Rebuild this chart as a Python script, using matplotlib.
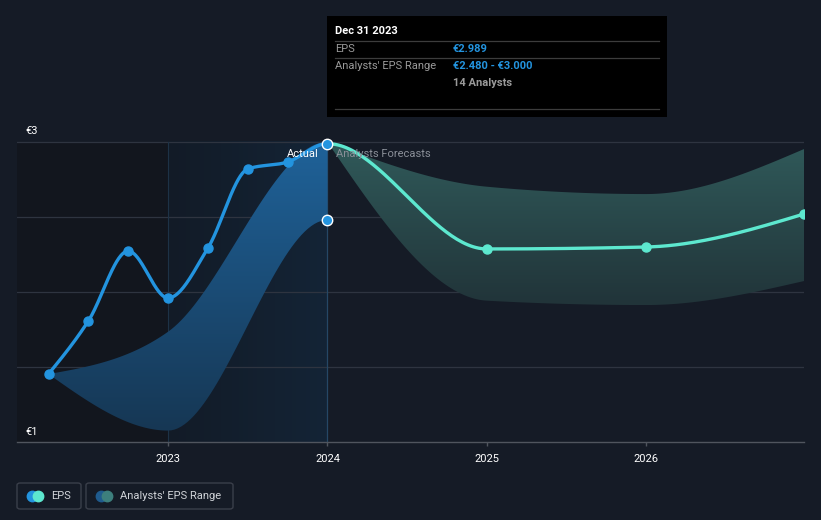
import numpy as np
import matplotlib
matplotlib.use("Agg")
import matplotlib.pyplot as plt
from matplotlib.patches import Rectangle, FancyBboxPatch
from matplotlib.colors import LinearSegmentedColormap
from matplotlib.lines import Line2D

plt.rcParams['font.family'] = ['Roboto', 'DejaVu Sans']

# dati (anni come decimali)
actual_x = [2022.25, 2022.5, 2022.75, 2023.0, 2023.25, 2023.5, 2023.75, 2024.0]
actual_eps = [1.453, 1.807, 2.273, 1.960, 2.293, 2.820, 2.867, 2.989]
forecast_x = [2024.0, 2025.0, 2026.0, 2026.99]
forecast_eps = [2.989, 2.287, 2.300, 2.520]

past_band_x = [2022.25, 2023.0, 2024.0]
past_band_hi = [1.453, 1.735, 3.000]
past_band_lo = [1.453, 1.076, 2.480]

fc_band_x = [2024.0, 2025.0, 2026.0, 2026.99]
fc_band_hi = [3.000, 2.702, 2.653, 2.953]
fc_band_lo = [3.000, 1.942, 1.913, 2.073]

x_ticks = [2023, 2024, 2025, 2026]
x_labels = ["2023", "2024", "2025", "2026"]

BG = "#151b26"
BLUE = "#2394df"
TEAL = "#5de8cf"
W, H = 821, 520


def monotone(xs, ys, n=50):
    # curva monotona tipo d3.curveMonotoneX
    xs = np.asarray(xs, float)
    ys = np.asarray(ys, float)
    h = np.diff(xs)
    s = np.diff(ys) / h
    m = np.zeros_like(ys)
    for i in range(1, len(xs) - 1):
        if s[i - 1] * s[i] > 0:
            p = (s[i - 1] * h[i] + s[i] * h[i - 1]) / (h[i - 1] + h[i])
            m[i] = 2 * np.sign(s[i]) * min(abs(s[i - 1]), abs(s[i]), 0.5 * abs(p))
    m[0] = (3 * s[0] - m[1]) / 2
    m[-1] = (3 * s[-1] - m[-2]) / 2
    out_x, out_y = [], []
    for i in range(len(xs) - 1):
        t = np.linspace(0, 1, n)
        h00 = 2 * t**3 - 3 * t**2 + 1
        h10 = t**3 - 2 * t**2 + t
        h01 = -2 * t**3 + 3 * t**2
        h11 = t**3 - t**2
        yy = h00 * ys[i] + h10 * h[i] * m[i] + h01 * ys[i + 1] + h11 * h[i] * m[i + 1]
        out_x.append(xs[i] + t * h[i])
        out_y.append(yy)
    return np.concatenate(out_x), np.concatenate(out_y)


def gradient_fill(ax, x, lo, hi, c_top, c_bot):
    poly = ax.fill_between(x, lo, hi, color="none", lw=0)
    cmap = LinearSegmentedColormap.from_list("g", [c_bot, c_top])
    grad = np.linspace(0, 1, 256).reshape(-1, 1)
    im = ax.imshow(grad, cmap=cmap, aspect="auto", origin="lower",
                   extent=[x[0], x[-1], min(lo), max(hi)], zorder=2)
    im.set_clip_path(poly.get_paths()[0], transform=ax.transData)


fig = plt.figure(figsize=(W / 100, H / 100), dpi=100, facecolor=BG)
x_left = 2023 - (168 - 17) / 159.33
x_right = 2026.99
y_top = 3 + (142 - 10) / 150
ax = fig.add_axes([17 / W, 1 - 442 / H, (804 - 17) / W, (442 - 10) / H])
ax.set_facecolor(BG)
ax.set_xlim(x_left, x_right)
ax.set_ylim(1, y_top)

# zone di sfondo
ax.axvspan(x_left, 2023, ymin=0, ymax=(3 - 1) / (y_top - 1), color="#12161e", lw=0, zorder=0)
bgcmap = LinearSegmentedColormap.from_list("bg", ["#121b27", "#142436"])
ax.imshow(np.linspace(0, 1, 256).reshape(1, -1), cmap=bgcmap, aspect="auto",
          extent=[2023, 2024, 1, 3], zorder=0)

for yv in [1.5, 2.0, 2.5, 3.0]:
    ax.axhline(yv, color="#2e3440", lw=0.9, zorder=1)
ax.plot([2023, 2023], [1, 3], color="#1d3246", lw=0.8, zorder=1)
ax.plot([2024, 2024], [1, 3], color="#254765", lw=0.9, zorder=1)

# bande: la banda storica prosegue con il punto 2025 per la tangente in 2024
bx, bhi = monotone(past_band_x + fc_band_x[1:2], past_band_hi + fc_band_hi[1:2])
_, blo = monotone(past_band_x + fc_band_x[1:2], past_band_lo + fc_band_lo[1:2])
keep = bx <= 2024.0001
gradient_fill(ax, bx[keep], blo[keep], bhi[keep], "#1f6299", "#163754")

fx, fhi = monotone(fc_band_x, fc_band_hi)
_, flo = monotone(fc_band_x, fc_band_lo)
gradient_fill(ax, fx, flo, fhi, "#305a5a", "#213439")

# linea EPS (una sola curva, colorata in due parti)
all_x = actual_x + forecast_x[1:]
all_y = actual_eps + forecast_eps[1:]
cx, cy = monotone(all_x, all_y, n=60)
ax.plot(cx[cx <= 2024.0001], cy[cx <= 2024.0001], color=BLUE, lw=2.4, zorder=4,
        solid_capstyle="round")
ax.plot(cx[cx >= 2024], cy[cx >= 2024], color=TEAL, lw=2.4, zorder=4,
        solid_capstyle="round")
ax.plot(actual_x[:-1], actual_eps[:-1], "o", color=BLUE, ms=6.5, zorder=5)
ax.plot(forecast_x[1:], forecast_eps[1:], "o", color=TEAL, ms=6.5, zorder=5)
ax.plot([2024, 2024], [actual_eps[-1], past_band_lo[-1]], "o", color=BLUE, ms=7.5,
        mec="white", mew=1.0, zorder=6, ls="none")

ax.text(2024 - 9 / 159.33, 2.92, "Actual", color="white", fontsize=8, ha="right",
        va="center", zorder=7)
ax.text(2024 + 9 / 159.33, 2.92, "Analysts Forecasts", color="#8a8f98", fontsize=8,
        ha="left", va="center", zorder=7)

# assi
for sp in ["top", "right", "left"]:
    ax.spines[sp].set_visible(False)
ax.spines["bottom"].set_color("#50555e")
ax.spines["bottom"].set_linewidth(1.0)
ax.set_yticks([])
ax.set_xticks(x_ticks)
ax.set_xticklabels(x_labels, color="white", fontsize=8)
ax.tick_params(axis="x", colors="#50555e", length=3, width=1, pad=6, labelcolor="white")

ax.text(8 / 787, 3.0 + 6 / 150, "€3", transform=ax.get_yaxis_transform(), color="white",
        fontsize=8, va="bottom", ha="left")
ax.text(8 / 787, 1.0 + 5 / 150, "€1", transform=ax.get_yaxis_transform(), color="white",
        fontsize=8, va="bottom", ha="left")


def fx_(px):
    return px / W


def fy_(py):
    return 1 - py / H


# tooltip
fig.patches.append(Rectangle((fx_(327), fy_(117)), (667 - 327) / W, (117 - 16) / H,
                             transform=fig.transFigure, facecolor="black", edgecolor="none",
                             zorder=10))
for ly in [41, 58, 109]:
    fig.add_artist(Line2D([fx_(335), fx_(659)], [fy_(ly), fy_(ly)], color="#3c3c3c",
                          lw=0.9, zorder=11))
fig.text(fx_(335), fy_(31), "Dec 31 2023", color="white", fontsize=8, fontweight="bold",
         va="center", zorder=12)
fig.text(fx_(335), fy_(49), "EPS", color="#9a9a9a", fontsize=8, va="center", zorder=12)
fig.text(fx_(453), fy_(49), "€2.989", color=BLUE, fontsize=8, fontweight="bold",
         va="center", zorder=12)
fig.text(fx_(335), fy_(66), "Analysts' EPS Range", color="#9a9a9a", fontsize=8,
         va="center", zorder=12)
fig.text(fx_(453), fy_(66), "€2.480 - €3.000", color=BLUE, fontsize=8, fontweight="bold",
         va="center", zorder=12)
fig.text(fx_(453), fy_(83), "14 Analysts", color="#9a9a9a", fontsize=8, fontweight="bold",
         va="center", zorder=12)

# legenda
legend_items = [
    (17, 81, [BLUE, TEAL], "EPS"),
    (86, 233, ["#1f5b8e", "#3d7f7d"], "Analysts' EPS Range"),
]
for x0, x1, cols, label in legend_items:
    fig.patches.append(FancyBboxPatch((fx_(x0), fy_(509)), (x1 - x0) / W, 26 / H,
                                      boxstyle="round,pad=0,rounding_size=0.004",
                                      transform=fig.transFigure, facecolor="none",
                                      edgecolor="#3a3f4a", lw=1.0))
    fig.add_artist(Line2D([fx_(x0 + 15)], [fy_(496)], marker="o", color=cols[0], ms=7.5,
                          ls="none"))
    fig.add_artist(Line2D([fx_(x0 + 21)], [fy_(496)], marker="o", color=cols[1], ms=7.5,
                          ls="none"))
    fig.text(fx_(x0 + 34), fy_(496), label, color="#d0d3d8", fontsize=8, va="center")

fig.savefig("out.png", dpi=100, facecolor=BG)
